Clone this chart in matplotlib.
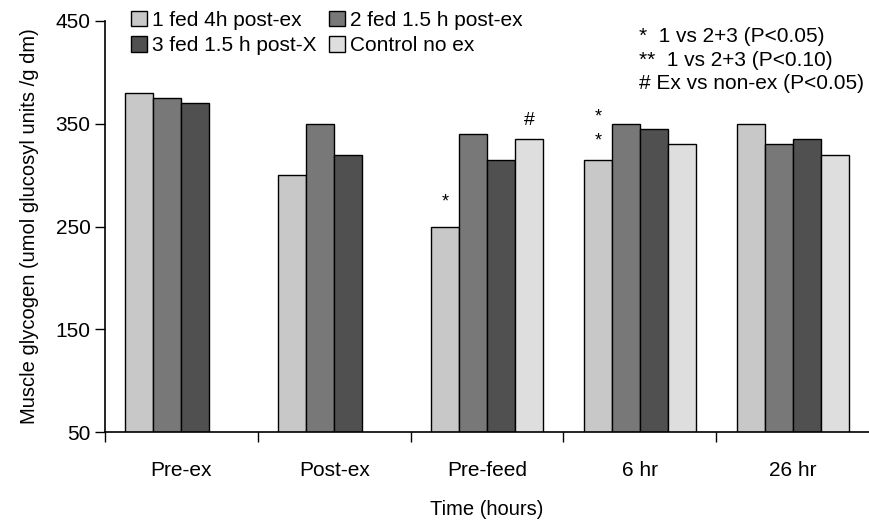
import numpy as np
import matplotlib.pyplot as plt

plt.rcParams['font.family'] = ['Liberation Sans', 'DejaVu Sans']

# Data
categories = ['Pre-ex', 'Post-ex', 'Pre-feed', '6 hr', '26 hr']
series_names = ['1 fed 4h post-ex', '2 fed 1.5 h post-ex',
                '3 fed 1.5 h post-X', 'Control no ex']
fed_4h = [380, 300, 250, 315, 350]
fed_15h_ex = [375, 350, 340, 350, 330]
fed_15h_x = [370, 320, 315, 345, 335]
control = [np.nan, np.nan, 335, 330, 320]
yticks = [50, 150, 250, 350, 450]

colors = ['#c8c8c8', '#787878', '#505050', '#dedede']
all_series = [fed_4h, fed_15h_ex, fed_15h_x, control]

fig = plt.figure(figsize=(8.69, 5.23), dpi=100)
ax = fig.add_axes([105 / 869, 1 - 432 / 523, 764 / 869, 411 / 523])

x = np.arange(len(categories))
w = 0.183
bars = []
for i, (vals, c, name) in enumerate(zip(all_series, colors, series_names)):
    b = ax.bar(x + (i - 1.5) * w, vals, width=w, bottom=0, color=c,
               edgecolor='black', linewidth=1.0, label=name, zorder=2)
    bars.append(b)

ax.set_ylim(50, 450)
ax.set_xlim(-0.5, len(categories) - 0.5)
ax.set_yticks(yticks)
ax.set_xticks(x)
ax.set_xticklabels(categories)
ax.set_xticks(np.arange(len(categories)) - 0.5, minor=True)
ax.tick_params(axis='x', which='major', length=0, pad=21, labelsize=15)
ax.tick_params(axis='x', which='minor', length=7, width=1, direction='out')
ax.tick_params(axis='y', length=7, width=1, direction='out', labelsize=15)
for s in ['top', 'right']:
    ax.spines[s].set_visible(False)
ax.spines['left'].set_linewidth(1.2)
ax.spines['bottom'].set_linewidth(1.2)

ax.set_xlabel('Time (hours)', fontsize=14.5, labelpad=14)
ax.set_ylabel('Muscle glycogen (umol glucosyl units /g dm)', fontsize=14.5,
              labelpad=12)

# row-major legend order: 1, 2 / 3, Control
order = [0, 2, 1, 3]
leg = ax.legend([bars[k] for k in order], [series_names[k] for k in order],
                ncol=2, loc='upper left', bbox_to_anchor=(0.01, 1.07),
                frameon=False, fontsize=15, handlelength=0.75,
                handleheight=0.75, handletextpad=0.25, columnspacing=0.6,
                labelspacing=0.3)

# significance marks
ax.text(x[2] - 1.5 * w, fed_4h[2] + 16, '*', ha='center', va='bottom', fontsize=13)
ax.text(x[2] + 1.5 * w, control[2] + 10, '#', ha='center', va='bottom', fontsize=14)
ax.text(x[3] - 1.5 * w, fed_4h[3] + 10, '*', ha='center', va='bottom', fontsize=13)
ax.text(x[3] - 1.5 * w, fed_4h[3] + 33, '*', ha='center', va='bottom', fontsize=13)

notes = '*  1 vs 2+3 (P<0.05)\n**  1 vs 2+3 (P<0.10)\n# Ex vs non-ex (P<0.05)'
fig.text(639 / 869, 1 - 27 / 523, notes, ha='left', va='top', fontsize=15,
         linespacing=1.3)

fig.savefig('out.png', dpi=100)
